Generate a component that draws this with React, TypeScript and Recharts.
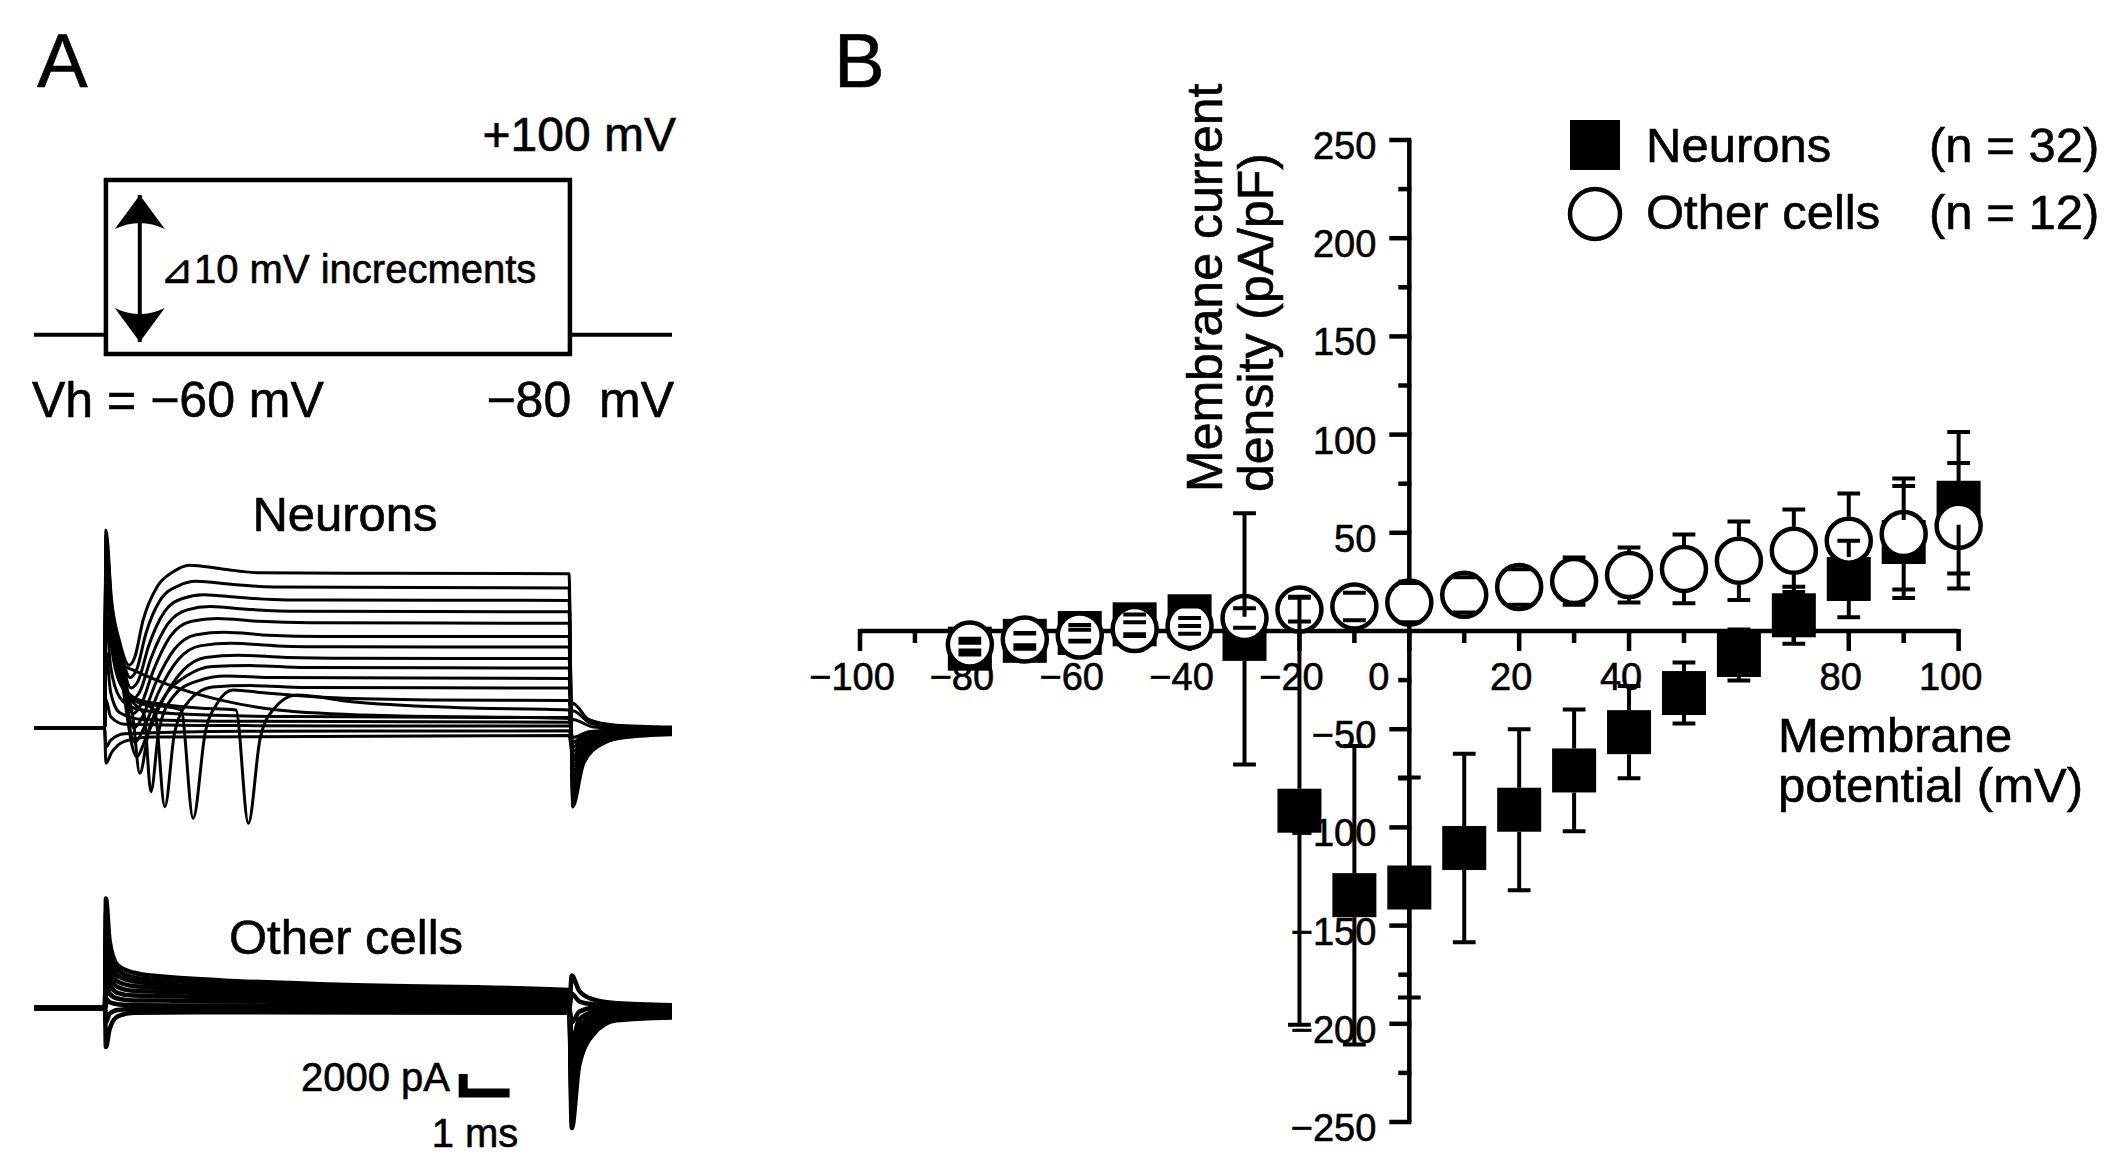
import React from "react";
import {
  ComposedChart,
  LineChart,
  Line,
  Scatter,
  XAxis,
  YAxis,
  ReferenceArea
} from "recharts";

const FONT = '"Liberation Sans", Arial, Helvetica, sans-serif';

// ---------- panel B: I-V relation ----------
const potentials = [-80, -70, -60, -50, -40, -30, -20, -10, 0, 10, 20, 30, 40, 50, 60, 70, 80, 90, 100];
const neuronMean = [-9, -5, -1, 3.4, 7.5, -4, -91.5, -134.5, -130.6, -110.5, -91, -71, -51.5, -31.6, -12.2, 8, 26.5, 45.3, 65.3];
const neuronSem = [3, 4, 4, 5, 5, 64, 109, 76, 56, 48, 41, 31, 23.5, 15.5, 13, 14.5, 19.5, 28.5, 36];
const otherMean = [-6.9, -4.3, -2.3, 1, 2.6, 6.6, 10.9, 12.5, 14.5, 18.4, 22.4, 25.4, 28.5, 31.6, 35.8, 40.9, 46, 49.4, 53.6];
const otherSem = [3, 3, 3, 3.5, 4, 5, 6, 7, 10, 9, 9, 12, 14, 17.5, 20, 21, 24, 28.3, 32];

const xTickValues = [-100, -90, -80, -70, -60, -50, -40, -30, -20, -10, 0, 10, 20, 30, 40, 50, 60, 70, 80, 90, 100];
const xTickLabels = [-100, -80, -60, -40, -20, 0, 20, 40, 80, 100];
const yTickValues = [-250, -225, -200, -175, -150, -125, -100, -75, -50, -25, 25, 50, 75, 100, 125, 150, 175, 200, 225, 250];
const yTickLabels = [250, 200, 150, 100, 50, -50, -100, -150, -200, -250];

// ---------- panel A: protocol ----------
const holdLeft = [[-1.55, -60], [0, -60]];
const holdRight = [[10, -60], [12.2, -60]];
const stepArrow = [[0.73, -67.5], [0.73, 84.5]];

// ---------- panel A: neuron current traces (ms, pA) ----------
const neuronOutward = [
  [[-1.55, 0], [-0.03, 0], [0, 20800], [0.12, 13500], [0.3, 9000], [0.5, 6600], [0.62, 7400], [0.8, 11300], [1.1, 14800], [1.45, 16400], [1.8, 17100], [2.5, 16700], [3.3, 16300], [6, 16250], [9.98, 16200], [10.06, -8300], [10.3, -3700], [10.7, -1700], [11.3, -850], [12.2, -500]],
  [[-1.55, 0], [-0.03, 0], [0, 20300], [0.12, 13000], [0.3, 8600], [0.52, 5300], [0.66, 6100], [0.86, 9900], [1.18, 13500], [1.55, 14900], [1.95, 15400], [2.7, 15100], [3.6, 14800], [9.98, 14700], [10.06, -7600], [10.3, -3400], [10.7, -1500], [11.3, -760], [12.2, -460]],
  [[-1.55, 0], [-0.03, 0], [0, 19800], [0.12, 12600], [0.3, 8200], [0.54, 4200], [0.7, 5000], [0.92, 8600], [1.26, 12200], [1.65, 13600], [2.1, 14000], [2.9, 13700], [3.9, 13450], [9.98, 13400], [10.06, -7000], [10.3, -3100], [10.7, -1400], [11.3, -700], [12.2, -420]],
  [[-1.55, 0], [-0.03, 0], [0, 19300], [0.12, 12200], [0.3, 7800], [0.56, 3000], [0.73, 3800], [0.97, 7300], [1.33, 10900], [1.75, 12400], [2.25, 12750], [3.1, 12450], [4.1, 12250], [9.98, 12200], [10.06, -6400], [10.3, -2900], [10.7, -1300], [11.3, -640], [12.2, -380]],
  [[-1.55, 0], [-0.03, 0], [0, 18800], [0.12, 11800], [0.3, 7400], [0.58, 1500], [0.76, 2500], [1.02, 6000], [1.4, 9700], [1.85, 11200], [2.4, 11500], [3.3, 11200], [4.4, 11050], [9.98, 11000], [10.06, -5800], [10.3, -2600], [10.7, -1150], [11.3, -580], [12.2, -350]],
  [[-1.55, 0], [-0.03, 0], [0, 18300], [0.12, 11400], [0.3, 7000], [0.6, 0], [0.79, 1200], [1.07, 4700], [1.48, 8300], [1.95, 9800], [2.55, 10050], [3.5, 9750], [4.7, 9620], [9.98, 9600], [10.06, -5200], [10.3, -2300], [10.7, -1050], [11.3, -520], [12.2, -310]],
  [[-1.55, 0], [-0.03, 0], [0, 17800], [0.12, 11000], [0.3, 6600], [0.62, -1500], [0.82, 0], [1.12, 3600], [1.56, 7200], [2.05, 8650], [2.7, 8900], [3.7, 8620], [5, 8520], [9.98, 8500], [10.06, -4600], [10.3, -2050], [10.7, -920], [11.3, -460], [12.2, -280]],
  [[-1.55, 0], [-0.03, 0], [0, 17300], [0.12, 10600], [0.3, 6200], [0.66, -3000], [0.86, -1100], [1.18, 2500], [1.65, 6000], [2.15, 7400], [2.85, 7650], [3.9, 7400], [5.2, 7320], [9.98, 7300], [10.06, -4000], [10.3, -1800], [10.7, -800], [11.3, -400], [12.2, -240]],
  [[-1.55, 0], [-0.03, 0], [0, 16800], [0.12, 10200], [0.3, 5800], [0.58, 1200], [0.73, -4760], [0.92, -300], [1.25, 3200], [1.75, 5500], [2.3, 6450], [3.1, 6550], [4.3, 6350], [9.98, 6300], [10.06, -3500], [10.3, -1550], [10.7, -700], [11.3, -350], [12.2, -210]],
  [[-1.55, 0], [-0.03, 0], [0, 16300], [0.12, 9800], [0.3, 5400], [0.6, 2600], [0.82, 1500], [0.97, -6690], [1.14, -300], [1.45, 3300], [1.95, 4900], [2.6, 5450], [3.6, 5300], [9.98, 5200], [10.06, -3000], [10.3, -1350], [10.7, -600], [11.3, -300], [12.2, -180]],
  [[-1.55, 0], [-0.03, 0], [0, 15800], [0.12, 9400], [0.3, 5100], [0.6, 3000], [1.05, 1900], [1.27, -8260], [1.48, -500], [1.8, 2900], [2.3, 4300], [3.1, 4450], [4.3, 4250], [9.98, 4200], [10.06, -2500], [10.3, -1100], [10.7, -500], [11.3, -250], [12.2, -150]],
  [[-1.55, 0], [-0.03, 0], [0, 15300], [0.12, 9000], [0.3, 4900], [0.6, 3200], [1.0, 2500], [1.62, 1900], [1.88, -9480], [2.14, -500], [2.4, 2600], [2.74, 3990], [3.4, 3700], [4.8, 3200], [7, 2950], [9.98, 2900], [10.06, -2000], [10.3, -900], [10.7, -400], [11.3, -200], [12.2, -120]],
  [[-1.55, 0], [-0.03, 0], [0, 14800], [0.12, 8600], [0.3, 4700], [0.6, 3100], [1.2, 2500], [2.0, 2100], [2.8, 1900], [3.07, -10010], [3.32, -1200], [3.6, 1900], [4.1, 3470], [5.3, 2760], [7.5, 2150], [9.98, 1900], [10.06, -1500], [10.3, -680], [10.7, -300], [11.3, -150], [12.2, -90]]
];
const neuronSmall = [
  [[-1.55, 0], [-0.03, 0], [0, 15000], [0.12, 9000], [0.3, 6800], [0.58, 6100], [1.0, 5200], [1.6, 4100], [2.5, 2900], [3.7, 1900], [6, 1300], [9.98, 1000], [10.06, -1000], [10.4, -400], [11.2, -150], [12.2, -100]],
  [[-1.55, 0], [-0.03, 0], [0, 12000], [0.1, 6500], [0.3, 3200], [0.6, 2100], [1.5, 1500], [4, 1200], [9.98, 1100], [10.06, 2600], [10.4, 900], [11, 300], [12.2, 100]],
  [[-1.55, 0], [-0.03, 0], [0, 8000], [0.1, 3800], [0.3, 1600], [0.8, 900], [3, 700], [9.98, 600], [10.06, 1800], [10.45, 500], [11.2, 0], [12.2, -200]],
  [[-1.55, 0], [-0.03, 0], [0, 3000], [0.1, 1200], [0.4, 400], [3, 250], [9.98, 200], [10.06, 900], [10.5, 100], [12.2, -300]],
  [[-1.55, 0], [-0.03, 0], [0, -2000], [0.1, -1300], [0.4, -600], [3, -350], [9.98, -300], [10.06, -1500], [10.5, -900], [11.2, -600], [12.2, -500]],
  [[-1.55, 0], [-0.03, 0], [0, -3700], [0.12, -2600], [0.4, -1400], [1, -950], [9.98, -800], [10.06, -3000], [10.5, -1800], [11.2, -1000], [12.2, -700]]
];

// ---------- panel A: other cells traces (ms, pA) ----------
const otherTraces = [
  [[-1.55, 0], [-0.02, 0], [0, 11500], [0.08, 7000], [0.25, 4500], [0.6, 3700], [1.2, 3300], [2.5, 2900], [5, 2450], [9.98, 1900], [10.04, -12600], [10.2, -6000], [10.5, -2800], [11, -1300], [12.2, -1000]],
  [[-1.55, 0], [-0.02, 0], [0, 10000], [0.08, 6200], [0.25, 4000], [0.6, 3200], [1.2, 2900], [2.5, 2550], [5, 2150], [9.98, 1650], [10.04, -11000], [10.2, -5200], [10.5, -2400], [11, -1100], [12.2, -850]],
  [[-1.55, 0], [-0.02, 0], [0, 8500], [0.08, 5300], [0.25, 3400], [0.6, 2800], [1.2, 2500], [2.5, 2200], [5, 1850], [9.98, 1400], [10.04, -9500], [10.2, -4400], [10.5, -2000], [11, -900], [12.2, -700]],
  [[-1.55, 0], [-0.02, 0], [0, 7000], [0.08, 4400], [0.25, 2800], [0.6, 2300], [1.2, 2100], [2.5, 1850], [5, 1550], [9.98, 1150], [10.04, -8000], [10.2, -3600], [10.5, -1600], [11, -700], [12.2, -550]],
  [[-1.55, 0], [-0.02, 0], [0, 5500], [0.08, 3500], [0.25, 2200], [0.6, 1800], [1.2, 1700], [2.5, 1500], [5, 1250], [9.98, 900], [10.04, -6500], [10.2, -2800], [10.5, -1200], [11, -500], [12.2, -400]],
  [[-1.55, 0], [-0.02, 0], [0, 4000], [0.08, 2500], [0.25, 1600], [0.6, 1300], [1.2, 1250], [2.5, 1100], [5, 950], [9.98, 650], [10.04, -5000], [10.2, -2000], [10.5, -800], [11, -300], [12.2, -250]],
  [[-1.55, 0], [-0.02, 0], [0, 2500], [0.08, 1500], [0.25, 1000], [0.6, 800], [1.2, 800], [2.5, 700], [5, 600], [9.98, 400], [10.04, -3500], [10.2, -1200], [10.5, -400], [11, -100], [12.2, -100]],
  [[-1.55, 0], [-0.02, 0], [0, 1000], [0.08, 600], [0.25, 400], [0.6, 300], [2.5, 250], [9.98, 150], [10.04, -1500], [10.2, -400], [10.5, 0], [12.2, 50]],
  [[-1.55, 0], [-0.02, 0], [0, -1500], [0.08, -600], [0.25, -200], [0.6, -100], [9.98, -150], [10.04, 1500], [10.2, 700], [10.5, 400], [11, 300], [12.2, 200]],
  [[-1.55, 0], [-0.02, 0], [0, -4100], [0.08, -2200], [0.25, -900], [0.6, -500], [2.5, -450], [9.98, -500], [10.04, 3400], [10.2, 1800], [10.5, 900], [11, 500], [12.2, 300]]
];
const scaleBar = [[8.7, -8925], [7.7, -8925], [7.7, -6925]];

// ---------- layout ----------
const W = 2128;
const H = 1168;
const B_LEFT = 700;
const B_W = W - B_LEFT;
const B_MARGIN = { top: 140, right: 158, bottom: 46, left: 160 };
const PX_PER_UNIT = (H - B_MARGIN.top - B_MARGIN.bottom) / 500;
const PX_PER_MV = (B_W - B_MARGIN.left - B_MARGIN.right) / 200;
const SQ = 44;
const CIRCLE_R = 22;
const SQ_EDGE = SQ / 2 / PX_PER_UNIT;
const CIRCLE_EDGE = (CIRCLE_R + 2) / PX_PER_UNIT;
const CAP_HALF = 11.5 / PX_PER_MV;
const INK = 4.5;

const A_W = 700;
const A_MARGIN_X = { left: 34, right: 28 };
const T_DOMAIN: [number, number] = [-1.55, 12.2];
const PA_PX = 105;

const toRows = (pts: number[][]) => pts.map(([t, v]) => ({ t, v }));

function errorRows(mean: number[], sem: number[], edge: number) {
  const rows: { x: number; y: number | null }[] = [];
  potentials.forEach((x, i) => {
    [1, -1].forEach((dir) => {
      const tip = mean[i] + dir * sem[i];
      if (sem[i] > edge) {
        rows.push({ x, y: mean[i] + dir * edge }, { x, y: tip }, { x, y: null });
      }
      rows.push({ x: x - CAP_HALF, y: tip }, { x: x + CAP_HALF, y: tip }, { x, y: null });
    });
  });
  return rows;
}

const neuronPoints = potentials.map((x, i) => ({ x, y: neuronMean[i] }));
const otherPoints = potentials.map((x, i) => ({ x, y: otherMean[i] }));
const errorData = [...errorRows(neuronMean, neuronSem, SQ_EDGE), ...errorRows(otherMean, otherSem, CIRCLE_EDGE)];

function TraceChart({ top, height, base, domain, traces, width, extra }: any) {
  const mTop = base - domain[1] / PA_PX;
  const mBottom = height - (base - domain[0] / PA_PX);
  return (
    <div style={{ position: "absolute", left: 0, top }}>
      <LineChart
        width={A_W}
        height={height}
        margin={{ top: mTop, bottom: mBottom, left: A_MARGIN_X.left, right: A_MARGIN_X.right }}
      >
        <XAxis type="number" dataKey="t" domain={T_DOMAIN} hide />
        <YAxis type="number" domain={domain} hide />
        {traces.map((tr: number[][], i: number) => (
          <Line
            key={i}
            data={toRows(tr)}
            dataKey="v"
            type="monotoneX"
            stroke="#000"
            strokeWidth={width}
            dot={false}
            activeDot={false}
            isAnimationActive={false}
          />
        ))}
        {extra}
      </LineChart>
    </div>
  );
}

const arrowDot = (p: any) => {
  const { cx, cy, index } = p;
  const d = index === 0 ? -1 : 1;
  return (
    <path
      key={`arrow-${index}`}
      d={`M${cx},${cy} L${cx + 25},${cy + d * 34} Q${cx},${cy + d * 22} ${cx - 25},${cy + d * 34} Z`}
      fill="#000"
    />
  );
};

export default function App() {
  const txt = { fontFamily: FONT, fill: "#000", stroke: "#000", strokeWidth: 0.6 } as const;
  return (
    <div style={{ position: "absolute", left: 0, top: 0, width: W, height: H, background: "#fff", overflow: "hidden" }}>
      <svg width={W} height={H} style={{ position: "absolute", left: 0, top: 0 }}>
        <text x={37} y={87} fontSize={76} {...txt}>A</text>
        <text x={834} y={87} fontSize={76} {...txt}>B</text>
        <text x={676} y={151} fontSize={48} textAnchor="end" {...txt}>+100 mV</text>
        <text x={160} y={283} fontSize={40} {...txt}>⊿10 mV increcments</text>
        <text x={32} y={417} fontSize={50} {...txt}>Vh = −60 mV</text>
        <text x={674} y={417} fontSize={50} textAnchor="end" xmlSpace="preserve" {...txt}>−80  mV</text>
        <text x={345} y={531} fontSize={49} textAnchor="middle" {...txt}>Neurons</text>
        <text x={346} y={954} fontSize={49} textAnchor="middle" {...txt}>Other cells</text>
        <text x={450} y={1091} fontSize={40} textAnchor="end" {...txt}>2000 pA</text>
        <text x={475} y={1147} fontSize={40} textAnchor="middle" {...txt}>1 ms</text>

        <text transform="translate(1222,492) rotate(-90)" fontSize={50} {...txt}>Membrane current</text>
        <text transform="translate(1273,492) rotate(-90)" fontSize={50} {...txt}>density (pA/pF)</text>
        <text x={1778} y={752} fontSize={49} {...txt}>Membrane</text>
        <text x={1778} y={802} fontSize={49} {...txt}>potential (mV)</text>

        <rect x={1570} y={120} width={50} height={50} fill="#000" />
        <circle cx={1595} cy={214} r={25} fill="#fff" stroke="#000" strokeWidth={INK} />
        <text x={1646} y={162} fontSize={49} {...txt}>Neurons</text>
        <text x={1929} y={162} fontSize={49} {...txt}>(n = 32)</text>
        <text x={1646} y={229} fontSize={49} {...txt}>Other cells</text>
        <text x={1929} y={229} fontSize={49} {...txt}>(n = 12)</text>
      </svg>

      {/* voltage protocol */}
      <div style={{ position: "absolute", left: 0, top: 0 }}>
        <LineChart width={A_W} height={440} margin={{ top: 180, bottom: 86, left: A_MARGIN_X.left, right: A_MARGIN_X.right }}>
          <XAxis type="number" dataKey="t" domain={T_DOMAIN} hide />
          <YAxis type="number" domain={[-80, 100]} hide />
          <ReferenceArea x1={0} x2={10} y1={-80} y2={100} fill="none" stroke="#000" strokeWidth={INK} fillOpacity={0} />
          <Line data={toRows(holdLeft)} dataKey="v" type="linear" stroke="#000" strokeWidth={4} dot={false} activeDot={false} isAnimationActive={false} />
          <Line data={toRows(holdRight)} dataKey="v" type="linear" stroke="#000" strokeWidth={4} dot={false} activeDot={false} isAnimationActive={false} />
          <Line data={toRows(stepArrow)} dataKey="v" type="linear" stroke="#000" strokeWidth={4} dot={arrowDot} activeDot={false} isAnimationActive={false} />
        </LineChart>
      </div>

      <TraceChart top={440} height={420} base={288} domain={[-12000, 22000]} width={3} traces={[...neuronSmall, ...neuronOutward]} />
      <TraceChart
        top={860}
        height={308}
        base={148}
        domain={[-16000, 14000]}
        width={4.5}
        traces={otherTraces}
        extra={
          <Line data={toRows(scaleBar)} dataKey="v" type="linear" stroke="#000" strokeWidth={9} strokeLinejoin="miter" strokeLinecap="butt" dot={false} activeDot={false} isAnimationActive={false} />
        }
      />

      {/* panel B */}
      <div style={{ position: "absolute", left: B_LEFT, top: 0 }}>
        <ComposedChart width={B_W} height={H} margin={B_MARGIN}>
          <XAxis type="number" dataKey="x" domain={[-100, 100]} hide />
          <YAxis type="number" dataKey="y" domain={[-250, 250]} hide />
          <Line data={[{ x: -100, y: 0 }, { x: 100, y: 0 }]} dataKey="y" type="linear" stroke="#000" strokeWidth={INK} dot={false} activeDot={false} isAnimationActive={false} />
          <Line data={[{ x: 0, y: -250 }, { x: 0, y: 250 }]} dataKey="y" type="linear" stroke="#000" strokeWidth={INK} dot={false} activeDot={false} isAnimationActive={false} />
          <Scatter
            data={xTickValues.map((x) => ({ x, y: 0 }))}
            dataKey="y"
            isAnimationActive={false}
            shape={(p: any) => (
              <line x1={p.cx} x2={p.cx} y1={p.cy - 2} y2={p.cy + (p.payload.x % 20 === 0 ? 20 : 12)} stroke="#000" strokeWidth={INK} />
            )}
          />
          <Scatter
            data={yTickValues.map((y) => ({ x: 0, y }))}
            dataKey="y"
            isAnimationActive={false}
            shape={(p: any) => (
              <line x1={p.cx + 2} x2={p.cx - (p.payload.y % 50 === 0 ? 20 : 11)} y1={p.cy} y2={p.cy} stroke="#000" strokeWidth={INK} />
            )}
          />
          <Scatter
            data={xTickLabels.map((x) => ({ x, y: 0 }))}
            dataKey="y"
            isAnimationActive={false}
            shape={(p: any) => (
              <text
                x={p.payload.x === 0 ? p.cx - 20 : p.cx - 8}
                y={p.cy + 59}
                textAnchor={p.payload.x === 0 ? "end" : "middle"}
                fontSize={38}
                fontFamily={FONT}
                fill="#000"
                stroke="#000"
                strokeWidth={0.6}
              >
                {p.payload.x < 0 ? `−${-p.payload.x}` : `${p.payload.x}`}
              </text>
            )}
          />
          <Scatter
            data={yTickLabels.map((y) => ({ x: 0, y }))}
            dataKey="y"
            isAnimationActive={false}
            shape={(p: any) => (
              <text x={p.cx - 33} y={p.cy + 19} textAnchor="end" fontSize={38} fontFamily={FONT} fill="#000" stroke="#000" strokeWidth={0.6}>
                {p.payload.y < 0 ? `−${-p.payload.y}` : `${p.payload.y}`}
              </text>
            )}
          />
          <Scatter
            data={neuronPoints}
            dataKey="y"
            isAnimationActive={false}
            shape={(p: any) => <rect x={p.cx - SQ / 2} y={p.cy - SQ / 2} width={SQ} height={SQ} fill="#000" />}
          />
          <Scatter
            data={otherPoints}
            dataKey="y"
            isAnimationActive={false}
            shape={(p: any) => <circle cx={p.cx} cy={p.cy} r={CIRCLE_R} fill="#fff" stroke="#000" strokeWidth={INK} />}
          />
          <Line
            data={errorData}
            dataKey="y"
            type="linear"
            connectNulls={false}
            stroke="#000"
            strokeWidth={4}
            dot={false}
            activeDot={false}
            isAnimationActive={false}
            {...({ zIndex: 1000 } as any)}
          />
        </ComposedChart>
      </div>
    </div>
  );
}
